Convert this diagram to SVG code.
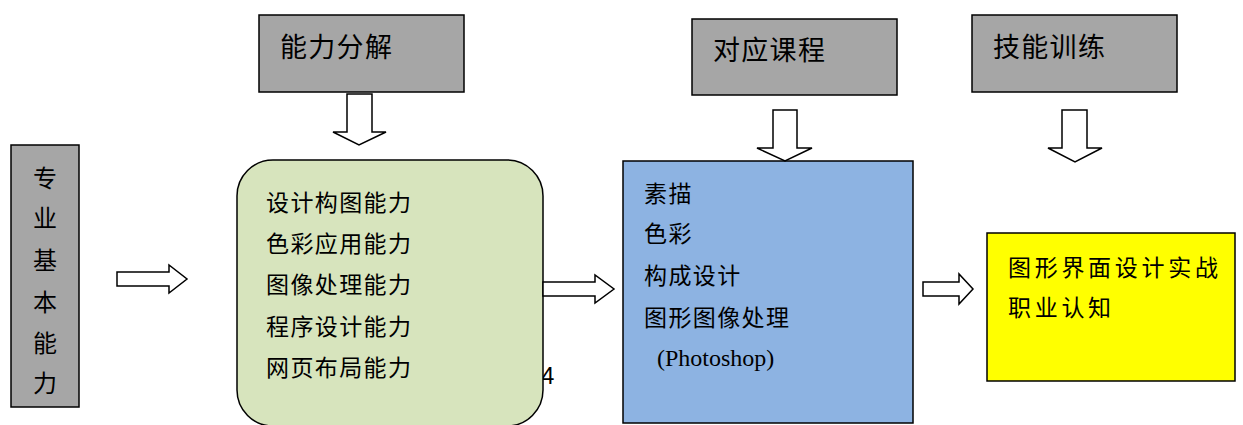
<svg xmlns="http://www.w3.org/2000/svg" width="1243" height="425" viewBox="0 0 1243 425">
<style>
  .box { stroke: #000; stroke-width: 1.5; }
  .gray { fill: #a6a6a6; }
  .green { fill: #d7e4bd; }
  .blue { fill: #8db3e2; }
  .yellow { fill: #ffff00; }
  .arrow { fill: #fff; stroke: #000; stroke-width: 1.5; stroke-linejoin: miter; }
  text { font-family: "Liberation Serif", "Noto Sans CJK SC", serif; fill: #000; }
  .hdr { font-size: 27px; letter-spacing: 1.3px; }
  .body { font-size: 23px; letter-spacing: 1.4px; }
  .vert { font-size: 24px; text-anchor: middle; }
  .yel { font-size: 23px; letter-spacing: 3.7px; }
  .num { font-family: "Liberation Sans", sans-serif; font-size: 24px; }
  .ps { font-size: 24px; }
</style>
<rect width="1243" height="425" fill="#fff"/>

<g id="node-base">
  <rect class="box gray" x="11" y="145" width="68" height="262"/>
  <text class="vert" x="45" y="187">专</text>
  <text class="vert" x="45" y="227">业</text>
  <text class="vert" x="45" y="269">基</text>
  <text class="vert" x="45" y="311">本</text>
  <text class="vert" x="45" y="352">能</text>
  <text class="vert" x="45" y="392">力</text>
</g>

<g id="node-decompose-header">
  <rect class="box gray" x="259" y="15" width="205" height="77"/>
  <text class="hdr" x="280" y="57">能力分解</text>
</g>

<g id="node-abilities">
  <text class="num" x="541" y="384">4</text>
  <rect class="box green" x="237" y="160" width="306" height="266" rx="36" ry="36"/>
  <text class="body" x="266" y="211">设计构图能力</text>
  <text class="body" x="266" y="252">色彩应用能力</text>
  <text class="body" x="266" y="293">图像处理能力</text>
  <text class="body" x="266" y="335">程序设计能力</text>
  <text class="body" x="266" y="376">网页布局能力</text>
</g>

<g id="node-course-header">
  <rect class="box gray" x="692" y="19" width="205" height="76"/>
  <text class="hdr" x="713" y="60">对应课程</text>
</g>

<g id="node-courses">
  <rect class="box blue" x="623" y="161" width="290" height="262"/>
  <text class="body" x="644" y="202">素描</text>
  <text class="body" x="644" y="242">色彩</text>
  <text class="body" x="644" y="284">构成设计</text>
  <text class="body" x="644" y="326">图形图像处理</text>
  <text class="ps" x="657" y="366">(Photoshop)</text>
</g>

<g id="node-skill-header">
  <rect class="box gray" x="972" y="15" width="205" height="77"/>
  <text class="hdr" x="993" y="57">技能训练</text>
</g>

<g id="node-skills">
  <rect class="box yellow" x="987" y="233" width="248" height="148"/>
  <text class="yel" x="1008" y="276">图形界面设计实战</text>
  <text class="yel" x="1008" y="316">职业认知</text>
</g>

<g id="connectors">
  <polygon class="arrow" points="117,272 169,272 169,265 187,279 169,293 169,286 117,286"/>
  <polygon class="arrow" points="543,282 595,282 595,275 614,289 595,303 595,296 543,296"/>
  <polygon class="arrow" points="923,282 959,282 959,274 973,289 959,304 959,296 923,296"/>
  <polygon class="arrow" points="347,94 372,94 372,132 386,132 359,145 333,132 347,132"/>
  <polygon class="arrow" points="773,110 797,110 797,148 812,148 785,161 757,148 773,148"/>
  <polygon class="arrow" points="1062,110 1087,110 1087,148 1102,148 1075,162 1048,148 1062,148"/>
</g>
</svg>
